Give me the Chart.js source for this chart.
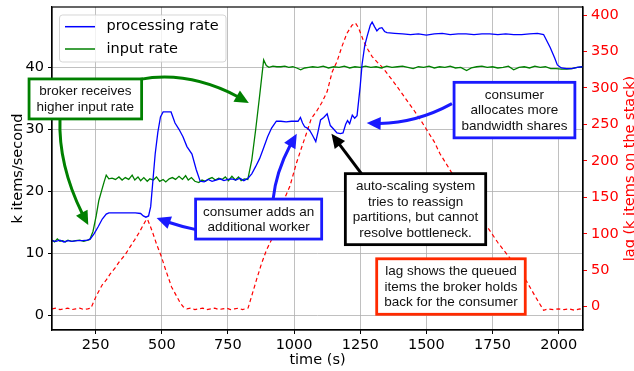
<!DOCTYPE html>
<html>
<head>
<meta charset="utf-8">
<script src="https://cdn.jsdelivr.net/npm/chart.js@4.4.1/dist/chart.umd.min.js"></script>
<style>
  html, body { margin: 0; padding: 0; background: #fff; }
  #wrap { width: 634px; height: 371px; }
</style>
</head>
<body>
<div id="wrap"><canvas id="c" width="634" height="371"></canvas></div>
<script>
// ---------------- data ----------------
const xTicks = [250, 500, 750, 1000, 1250, 1500, 1750, 2000];
const rateTicks = [0, 10, 20, 30, 40];
const lagTicks = [0, 50, 100, 150, 200, 250, 300, 350, 400];

const procT = [85,100,115,130,145,160,180,200,220,230,245,260,275,290,300,350,400,420,430,440,450,458,465,475,485,495,505,535,550,565,580,595,614,630,645,660,675,690,705,720,735,750,765,780,795,810,826,840,855,870,885,900,915,933,950,970,990,1015,1024,1032,1040,1050,1059,1070,1082,1090,1100,1112,1125,1137,1150,1162,1175,1185,1195,1202,1210,1220,1229,1238,1250,1257,1267,1276,1288,1295,1305,1313,1322,1332,1342,1351,1380,1410,1440,1470,1500,1530,1560,1590,1620,1650,1680,1710,1740,1770,1800,1830,1860,1890,1920,1943,1968,1985,1995,2010,2030,2050,2070,2092];
const procV = [12.0,11.9,12.1,11.8,12.0,11.9,12.0,12.0,12.1,12.3,13.2,14.3,15.5,16.3,16.5,16.5,16.5,16.4,16.0,15.8,16.0,17.5,21,26,29.5,32,32.8,32.8,31,30,28.8,27.2,26,23.5,21.6,21.5,21.9,21.6,21.8,22.0,21.7,21.9,22.0,21.8,22.1,21.7,22.1,22.8,24,25.3,27,28.8,30.2,31.3,31.3,31.2,31.3,31.3,31.9,31.0,30.4,30.2,29.8,29.0,28.0,29.5,31.5,31.9,32.5,30.6,30.0,29.4,29.3,29.4,30.8,31.4,30.9,32.3,31.8,32.2,37,40.5,43.5,45,46.8,47.3,46.5,45.9,46.3,46.4,45.8,45.6,45.5,45.4,45.3,45.4,45.2,45.4,45.5,45.3,45.4,45.4,45.3,45.4,45.4,45.3,45.4,45.3,45.3,45.4,45.5,45.3,43.2,41.5,40.4,39.9,39.8,39.8,40.0,40.1];

const inputT = [85,95,105,115,125,135,145,160,175,190,205,220,228,240,252,262,272,282,290,300,312,325,338,350,362,375,388,398,410,420,432,445,455,468,480,492,505,515,528,540,552,565,578,590,600,612,625,640,652,665,678,690,702,715,728,740,752,765,778,790,800,812,825,840,855,870,885,895,905,920,935,950,965,980,995,1010,1025,1040,1055,1070,1090,1110,1130,1150,1170,1190,1210,1230,1250,1270,1290,1310,1330,1350,1370,1390,1410,1430,1450,1470,1490,1510,1530,1550,1570,1590,1610,1630,1652,1670,1690,1710,1730,1750,1770,1790,1810,1830,1850,1870,1890,1910,1930,1950,1970,1990,2010,2030,2050,2070,2092];
const inputV = [12.1,11.8,12.3,11.9,12.0,11.8,12.1,11.9,12.0,12.1,11.9,12.1,12.2,13.5,16,18.5,20,21.5,22.6,22.0,22.1,21.9,22.3,21.8,22.2,21.9,22.6,21.8,22.3,21.7,22.2,21.6,22.0,21.8,22.3,21.6,21.9,21.5,22.0,22.2,21.9,22.4,21.9,22.5,21.8,22.2,21.6,21.4,21.8,21.6,22.0,22.2,21.8,22.1,21.9,22.3,21.7,22.4,21.8,22.3,21.7,22.0,21.9,25,30,35.5,41.2,40.3,40.0,40.2,40.1,40.1,40.2,40.0,40.1,39.9,39.6,39.9,40.0,40.1,40.0,40.2,39.9,40.1,40.0,40.2,39.9,40.1,40.0,40.2,40.0,40.1,39.9,40.2,40.0,40.1,40.2,40.0,39.8,40.1,40.0,40.2,39.9,40.1,40.0,40.2,39.9,40.0,39.5,39.9,40.1,40.2,40.0,40.1,39.9,40.0,40.2,39.6,40.0,40.1,39.9,40.2,40.0,40.1,39.8,39.8,39.7,39.7,39.8,40.0,40.1];

const lagT = [85,100,115,130,145,160,175,190,205,220,232,254,275,291,305,323,340,361,380,398,415,430,442,447,457,467,480,499,515,537,555,570,581,595,610,625,640,655,670,685,700,715,730,745,760,775,790,805,826,840,858,876,896,915,934,946,960,984,1009,1030,1047,1065,1085,1105,1125,1144,1162,1181,1200,1219,1232,1244,1263,1280,1295,1315,1332,1360,1389,1420,1452,1480,1509,1530,1551,1575,1597,1640,1690,1729,1770,1817,1850,1880,1910,1943,1960,1980,2000,2020,2040,2060,2080,2092];
const lagV = [-3,-2,-4,-3,-2,-4,-3,-2,-4,-3,-2,16,30,37,45,53,62,71,82,92,102,112,120,119,110,100,86,68,50,27,15,5,0,-3,-2,-4,-3,-2,-4,-3,-2,-4,-3,-2,-4,-3,-2,-4,-2,15,37,58,78,92,105,125,145,165,197,220,238,258,268,280,295,322,336,357,375,386,389,382,364,352,343,335,329,316,302,286,270,255,238,226,210,196,183,158,130,110,88,66,50,34,15,-5,-3,-4,-3,-4,-3,-5,-3,-4];

const seriesNames = ['processing rate', 'input rate'];

// ---------------- annotations (positions in data coords: x = time, y = left axis) ----------------
const notes = [
  { lines: ['broker receives', 'higher input rate'], x: 211, y: 34.9, color: 'green' },
  { lines: ['consumer adds an', 'additional worker'], x: 866, y: 15.5, color: '#1a1aff' },
  { lines: ['auto-scaling system', 'tries to reassign', 'partitions, but cannot', 'resolve bottleneck.'], x: 1459, y: 17.1, color: '#000000' },
  { lines: ['consumer', 'allocates more', 'bandwidth shares'], x: 1833, y: 33.1, color: '#1a1aff' },
  { lines: ['lag shows the queued', 'items the broker holds', 'back for the consumer'], x: 1593, y: 4.6, color: '#ff2a00' }
];
const arrows = [
  { p0: [417.3, 38.06], p1: [623.1, 39.68], p2: [828.9, 34.24], color: 'green' },
  { p0: [115.2, 31.77], p1: [107.6, 23.31], p2: [222.1, 14.52], color: 'green' },
  { p0: [637.5, 13.71], p1: [558.9, 14.35], p2: [480.4, 15.69], color: '#1a1aff' },
  { p0: [920.7, 18.71], p1: [934.0, 24.08], p2: [1010.2, 29.27], color: '#1a1aff' },
  { p0: [1254.5, 22.85], p1: [1202.8, 25.8], p2: [1141.2, 29.27], color: '#000000' },
  { p0: [1596.7, 34.15], p1: [1438.1, 30.44], p2: [1274.5, 31.0], color: '#1a1aff' }
];

const pts = (T, V) => T.map((t, i) => ({ x: t, y: V[i] }));
const FONT = 'DejaVu Sans';
const NOTE_FONT = '13.5px "Liberation Sans", Arial, sans-serif';

function qpt(a, b, c, t) {
  const u = 1 - t;
  return { x: u*u*a.x + 2*u*t*b.x + t*t*c.x, y: u*u*a.y + 2*u*t*b.y + t*t*c.y };
}

function fixSize(prop, size) {
  return s => {
    s[prop] = size;
    s.paddingTop = 0; s.paddingBottom = 0; s.paddingLeft = 0; s.paddingRight = 0;
  };
}

const overlay = {
  id: 'overlay',
  afterDatasetsDraw(chart) {
    const ctx = chart.ctx;
    const ca = chart.chartArea;
    const sx = chart.scales.x, sy = chart.scales.y;
    // frame (matplotlib spines)
    ctx.save();
    ctx.strokeStyle = '#000';
    ctx.lineWidth = 1.2;
    ctx.strokeRect(ca.left, ca.top, ca.right - ca.left, ca.bottom - ca.top);
    ctx.restore();

    // legend
    ctx.save();
    const lx = ca.left + 7.5, ly = ca.top + 8, lw = 166.5, lh = 47;
    ctx.globalAlpha = 0.8;
    ctx.fillStyle = '#fff';
    ctx.strokeStyle = '#cccccc';
    ctx.lineWidth = 1;
    ctx.beginPath();
    if (ctx.roundRect) ctx.roundRect(lx, ly, lw, lh, 3); else ctx.rect(lx, ly, lw, lh);
    ctx.fill(); ctx.stroke();
    ctx.globalAlpha = 1;
    const lcol = ['blue', 'green'];
    ctx.font = '14.5px "' + FONT + '"';
    ctx.textBaseline = 'middle';
    ctx.fillStyle = '#000';
    seriesNames.forEach((n, i) => {
      const yy = ly + 11.7 + i * 22.3;
      ctx.strokeStyle = lcol[i];
      ctx.lineWidth = 1.5;
      ctx.beginPath(); ctx.moveTo(lx + 5.5, yy); ctx.lineTo(lx + 35.5, yy); ctx.stroke();
      ctx.fillText(n, lx + 47, yy);
    });
    ctx.restore();

    // axis titles
    ctx.save();
    ctx.font = '14.5px "' + FONT + '"';
    ctx.fillStyle = '#000';
    ctx.textAlign = 'center';
    ctx.textBaseline = 'alphabetic';
    ctx.fillText('time (s)', (ca.left + ca.right) / 2, 364);
    ctx.save();
    ctx.translate(22, (ca.top + ca.bottom) / 2);
    ctx.rotate(-Math.PI / 2);
    ctx.fillText('k items/second', 0, 0);
    ctx.restore();
    ctx.save();
    ctx.fillStyle = 'red';
    ctx.translate(633.5, (ca.top + ca.bottom) / 2);
    ctx.rotate(-Math.PI / 2);
    ctx.fillText('lag (k items on the stack)', 0, 0);
    ctx.restore();
    ctx.restore();

    // arrows
    arrows.forEach(a => {
      const p0 = { x: sx.getPixelForValue(a.p0[0]), y: sy.getPixelForValue(a.p0[1]) };
      const p1 = { x: sx.getPixelForValue(a.p1[0]), y: sy.getPixelForValue(a.p1[1]) };
      const p2 = { x: sx.getPixelForValue(a.p2[0]), y: sy.getPixelForValue(a.p2[1]) };
      const headLen = 14, headW = 6.5;
      let ts = 1;
      for (let t = 1; t >= 0; t -= 0.002) {
        const q = qpt(p0, p1, p2, t);
        if (Math.hypot(q.x - p2.x, q.y - p2.y) >= headLen) { ts = t; break; }
      }
      const c1 = { x: p0.x + (p1.x - p0.x) * ts, y: p0.y + (p1.y - p0.y) * ts };
      const e = qpt(p0, p1, p2, ts);
      ctx.save();
      ctx.strokeStyle = a.color; ctx.fillStyle = a.color;
      ctx.lineWidth = 3; ctx.lineCap = 'butt';
      ctx.beginPath(); ctx.moveTo(p0.x, p0.y); ctx.quadraticCurveTo(c1.x, c1.y, e.x + (p2.x - e.x) * 0.1, e.y + (p2.y - e.y) * 0.1); ctx.stroke();
      const ang = Math.atan2(p2.y - e.y, p2.x - e.x);
      const bx = p2.x - headLen * Math.cos(ang), by = p2.y - headLen * Math.sin(ang);
      ctx.beginPath();
      ctx.moveTo(p2.x, p2.y);
      ctx.lineTo(bx + headW * Math.sin(ang), by - headW * Math.cos(ang));
      ctx.lineTo(bx - headW * Math.sin(ang), by + headW * Math.cos(ang));
      ctx.closePath(); ctx.fill();
      ctx.restore();
    });

    // note boxes
    notes.forEach(n => {
      ctx.save();
      ctx.font = NOTE_FONT;
      const lineH = 15.5, padX = 7.5, padY = 4.5;
      const w = Math.max(...n.lines.map(s => ctx.measureText(s).width)) + 2 * padX;
      const h = n.lines.length * lineH + 2 * padY;
      const cx = sx.getPixelForValue(n.x), cy = sy.getPixelForValue(n.y);
      const x0 = cx - w / 2, y0 = cy - h / 2;
      ctx.fillStyle = '#fff';
      ctx.fillRect(x0, y0, w, h);
      ctx.strokeStyle = n.color; ctx.lineWidth = 2.8;
      ctx.strokeRect(x0, y0, w, h);
      ctx.fillStyle = '#111';
      ctx.textAlign = 'center'; ctx.textBaseline = 'middle';
      n.lines.forEach((s, i) => ctx.fillText(s, cx, y0 + padY + lineH * (i + 0.5) + 0.5));
      ctx.restore();
    });
  }
};

Chart.defaults.font.family = FONT;
Chart.defaults.font.size = 14.5;

new Chart(document.getElementById('c'), {
  type: 'line',
  data: {
    datasets: [
      { label: seriesNames[0], data: pts(procT, procV), borderColor: 'blue', borderWidth: 1.3, pointRadius: 0, tension: 0, yAxisID: 'y' },
      { label: seriesNames[1], data: pts(inputT, inputV), borderColor: 'green', borderWidth: 1.3, pointRadius: 0, tension: 0, yAxisID: 'y' },
      { label: 'lag', data: pts(lagT, lagV), borderColor: 'red', borderWidth: 1.2, borderDash: [4, 3], pointRadius: 0, tension: 0, yAxisID: 'y2' }
    ]
  },
  options: {
    responsive: false,
    animation: false,
    devicePixelRatio: 1,
    layout: { padding: { top: 7, left: 0, right: 0, bottom: 0 } },
    plugins: { legend: { display: false }, tooltip: { enabled: false } },
    scales: {
      x: {
        type: 'linear', min: 85, max: 2092,
        afterBuildTicks: s => { s.ticks = xTicks.map(v => ({ value: v })); },
        afterFit: fixSize('height', 41),
        ticks: { color: '#000', padding: 3, maxRotation: 0, autoSkip: false, font: { size: 14.5 }, callback: v => String(v) },
        grid: { color: '#b0b0b0', lineWidth: 0.8, tickColor: '#000', tickLength: 4, tickWidth: 1 },
        border: { display: true, color: '#000', width: 1.2 }
      },
      y: {
        position: 'left', min: -2.42, max: 49.75,
        afterBuildTicks: s => { s.ticks = rateTicks.map(v => ({ value: v })); },
        afterFit: fixSize('width', 52),
        ticks: { color: '#000', padding: 4, font: { size: 14.5 }, callback: v => String(v) },
        grid: { color: '#b0b0b0', lineWidth: 0.8, tickColor: '#000', tickLength: 4, tickWidth: 1 },
        border: { display: true, color: '#000', width: 1.2 }
      },
      y2: {
        position: 'right', min: -32, max: 411,
        afterBuildTicks: s => { s.ticks = lagTicks.map(v => ({ value: v })); },
        afterFit: fixSize('width', 51),
        ticks: { color: 'red', padding: 4, font: { size: 14.5 }, callback: v => String(v) },
        grid: { drawOnChartArea: false, tickColor: 'red', tickLength: 4, tickWidth: 1 },
        border: { display: true, color: '#000', width: 1.2 }
      }
    }
  },
  plugins: [overlay]
});
</script>
</body>
</html>
